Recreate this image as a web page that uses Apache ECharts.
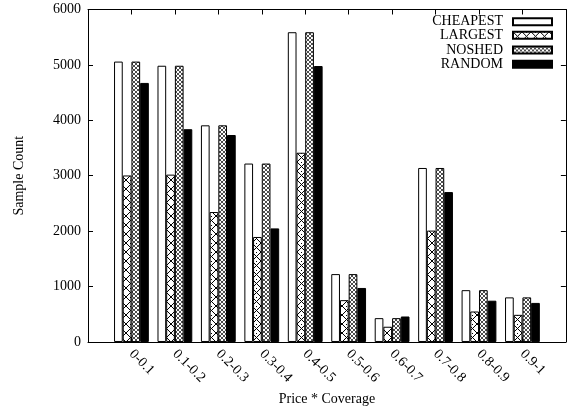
<!DOCTYPE html>
<html><head><meta charset="utf-8">
<script src="https://cdn.jsdelivr.net/npm/echarts@6/dist/echarts.min.js"></script>
<style>html,body{margin:0;padding:0;background:#fff}#c{width:568px;height:411px}</style>
</head><body><div id="c"></div>
<script>
const categories = ['0-0.1','0.1-0.2','0.2-0.3','0.3-0.4','0.4-0.5','0.5-0.6','0.6-0.7','0.7-0.8','0.8-0.9','0.9-1'];
const seriesNames = ['CHEAPEST','LARGEST','NOSHED','RANDOM'];
const cheapest = [5060, 4985, 3910, 3220, 5590, 1225, 430, 3140, 935, 805];
const largest  = [3005, 3020, 2345, 1895, 3415, 755, 275, 2010, 550, 490];
const noshed   = [5060, 4985, 3910, 3220, 5590, 1225, 430, 3140, 935, 805];
const random   = [4675, 3840, 3735, 2050, 4980, 975, 460, 2705, 745, 705];
const yTicks = [0,1000,2000,3000,4000,5000,6000];

const FONT = 'Liberation Serif';

function pattern(kind){
  const c = document.createElement('canvas');
  if(kind==='cross'){
    c.width=9;c.height=9;
    const g=c.getContext('2d');
    g.fillStyle='#fff';g.fillRect(0,0,9,9);
    g.strokeStyle='#000';g.lineWidth=1;
    g.beginPath();g.moveTo(0,0);g.lineTo(9,9);g.moveTo(9,0);g.lineTo(0,9);g.stroke();
    g.fillStyle='#000';g.fillRect(4,0,1,1);
  } else {
    c.width=4;c.height=4;
    const g=c.getContext('2d');
    g.fillStyle='#fff';g.fillRect(0,0,4,4);
    g.strokeStyle='#000';g.lineWidth=0.7;
    g.beginPath();g.moveTo(0,0);g.lineTo(4,4);g.moveTo(4,0);g.lineTo(0,4);g.stroke();
  }
  return {image:c, repeat:'repeat'};
}

const fills = ['#ffffff', pattern('cross'), pattern('dots'), '#000000'];
const values = [cheapest, largest, noshed, random];

const chart = echarts.init(document.getElementById('c'), null, {renderer:'canvas'});
const legendCenters = [21.7, 35.3, 50, 64.3];

const axisCommon = {
  axisLine:{show:true, onZero:false, lineStyle:{color:'#000', width:1}},
  axisTick:{show:true, inside:true, length:5, lineStyle:{color:'#000'}},
  splitLine:{show:false}
};

chart.setOption({
  animation:false,
  backgroundColor:'#fff',
  textStyle:{fontFamily:FONT},
  grid:{left:88, right:-2, top:9.5, bottom:62.5, containLabel:false},
  legend: seriesNames.map((n,i)=>({
    data:[n], orient:'vertical', right:15, top:legendCenters[i]-7, padding:0,
    align:'right', itemWidth:39, itemHeight:7, icon:'rect',
    textStyle:{fontFamily:FONT, fontSize:14, color:'#000', padding:[0,5,0,0]},
    selectedMode:false
  })),
  xAxis:[
    Object.assign({}, axisCommon, {
      type:'value', position:'bottom', min:-1, max:10, interval:1,
      name:'Price * Coverage', nameLocation:'middle', nameGap:50,
      nameTextStyle:{fontFamily:FONT, fontSize:14, color:'#000'},
      axisLabel:{rotate:-45, margin:10, fontFamily:FONT, fontSize:14, color:'#000',
        formatter:v=>categories[v]!==undefined?categories[v]:''}
    }),
    Object.assign({}, axisCommon, {
      type:'value', position:'top', min:-1, max:10, interval:1, axisLabel:{show:false}
    })
  ],
  yAxis:[
    Object.assign({}, axisCommon, {
      type:'value', min:yTicks[0], max:yTicks[yTicks.length-1], interval:1000, position:'left',
      name:'Sample Count', nameLocation:'middle', nameGap:62,
      nameTextStyle:{fontFamily:FONT, fontSize:14, color:'#000'},
      axisLabel:{margin:7, fontFamily:FONT, fontSize:14, color:'#000', formatter:v=>String(v)}
    }),
    Object.assign({}, axisCommon, {
      type:'value', min:yTicks[0], max:yTicks[yTicks.length-1], interval:1000, position:'right',
      axisLabel:{show:false}
    })
  ],
  series: seriesNames.map((n,i)=>({
    name:n, type:'bar', xAxisIndex:0, yAxisIndex:0,
    barWidth:8.7, barGap:'0%',
    itemStyle:{color:fills[i], borderColor:'#000', borderWidth:1},
    data: values[i].map((v,j)=>[j,v])
  }))
});
</script></body></html>
